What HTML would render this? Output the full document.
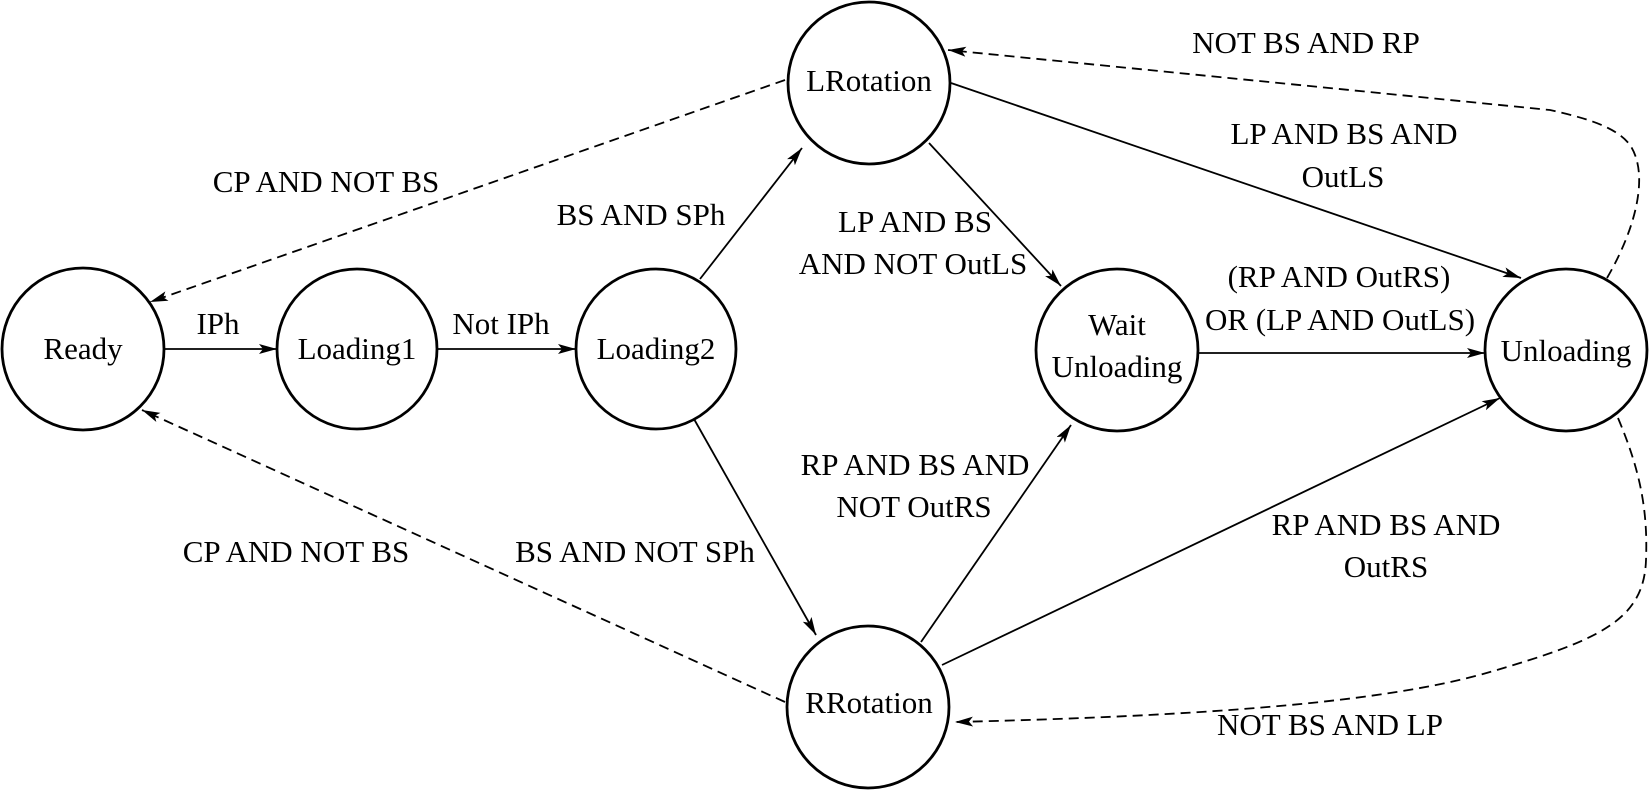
<!DOCTYPE html>
<html><head><meta charset="utf-8"><style>
html,body{margin:0;padding:0;background:#fff;}
svg{display:block;}
text{font-family:"Liberation Serif",serif;font-size:31px;fill:#000;text-anchor:middle;}
</style></head><body>
<svg width="1650" height="790" viewBox="0 0 1650 790" xmlns="http://www.w3.org/2000/svg">
<defs>
<marker id="a" markerUnits="userSpaceOnUse" markerWidth="20" markerHeight="12" refX="18" refY="5" orient="auto">
<path d="M0,0 L18,5 L0,10 L4,5 Z" fill="#000"/>
</marker>
</defs>
<g fill="none" stroke="#000" stroke-width="2.8">
<circle cx="83" cy="349" r="81"/>
<circle cx="357" cy="349" r="80"/>
<circle cx="656" cy="349" r="80"/>
<circle cx="869" cy="83" r="81"/>
<circle cx="1117" cy="350" r="81"/>
<circle cx="1566" cy="350" r="81"/>
<circle cx="868" cy="707" r="81"/>
</g>
<g fill="none" stroke="#000" stroke-width="1.8" marker-end="url(#a)">
<line x1="164" y1="349" x2="277" y2="349"/>
<line x1="437" y1="349" x2="576" y2="349"/>
<line x1="700" y1="279" x2="802" y2="148"/>
<line x1="694" y1="419" x2="816" y2="635"/>
<line x1="929" y1="143" x2="1061" y2="286"/>
<line x1="951" y1="83" x2="1521" y2="278"/>
<line x1="1198" y1="353" x2="1485" y2="353"/>
<line x1="921" y1="642" x2="1071" y2="425"/>
<line x1="942" y1="665" x2="1500" y2="398"/>
</g>
<g fill="none" stroke="#000" stroke-width="1.8" stroke-dasharray="10,6" marker-end="url(#a)">
<line x1="785" y1="80" x2="150" y2="302"/>
<line x1="785" y1="702" x2="142" y2="410"/>
<path d="M1607,278 C1635,230 1650,175 1630,145 C1615,125 1580,117 1550,110 L948,50"/>
<path d="M1618,418 C1640,470 1648,510 1646,560 C1644,620 1600,640 1490,672 C1400,698 1250,715 955,722"/>
</g>
<text x="83" y="359">Ready</text>
<text x="357" y="359">Loading1</text>
<text x="656" y="359">Loading2</text>
<text x="869" y="91">LRotation</text>
<text x="1117" y="335">Wait</text>
<text x="1117" y="377">Unloading</text>
<text x="1566" y="361">Unloading</text>
<text x="869" y="713">RRotation</text>
<text x="218" y="334">IPh</text>
<text x="501" y="334">Not IPh</text>
<text x="326" y="192">CP AND NOT BS</text>
<text x="641" y="225">BS AND SPh</text>
<text x="915" y="232">LP AND BS</text>
<text x="913" y="274">AND NOT OutLS</text>
<text x="1306" y="53">NOT BS AND RP</text>
<text x="1344" y="144">LP AND BS AND</text>
<text x="1343" y="187">OutLS</text>
<text x="1339" y="287">(RP AND OutRS)</text>
<text x="1340" y="330">OR (LP AND OutLS)</text>
<text x="915" y="475">RP AND BS AND</text>
<text x="914" y="517">NOT OutRS</text>
<text x="1386" y="535">RP AND BS AND</text>
<text x="1386" y="577">OutRS</text>
<text x="1330" y="735">NOT BS AND LP</text>
<text x="635" y="562">BS AND NOT SPh</text>
<text x="296" y="562">CP AND NOT BS</text>
</svg>
</body></html>
